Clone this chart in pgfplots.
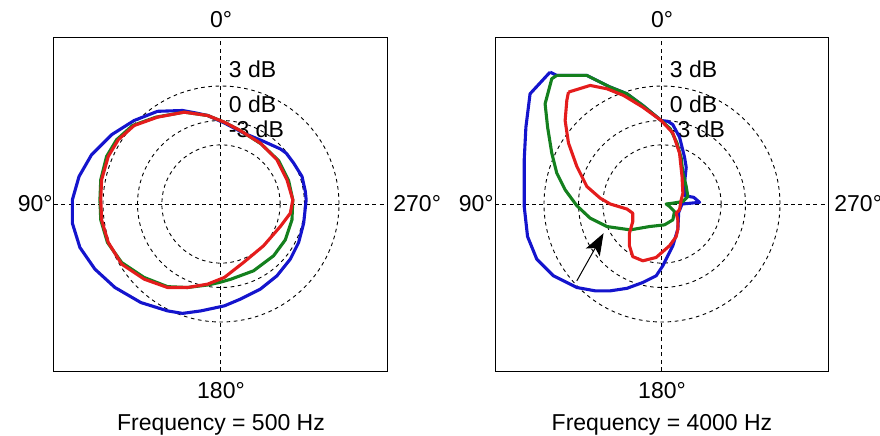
\documentclass[border=0pt]{standalone}
\usepackage{pgfplots}
\pgfplotsset{compat=1.18}
\usepackage{fontspec}
\setmainfont{Liberation Sans}
\usetikzlibrary{arrows.meta}
\definecolor{cblue}{RGB}{20,20,205}
\definecolor{cgreen}{RGB}{20,128,30}
\definecolor{cred}{RGB}{228,28,28}
\pgfplotsset{
  panel/.style={
    scale only axis, width=167pt, height=167pt,
    xmin=-2, xmax=2, ymin=-2, ymax=2,
    xtick=\empty, ytick=\empty, clip=false,
    axis line style={line width=0.5pt},
  },
  curve/.style={line width=1.55pt, line join=round, mark=none},
}
\newcommand{\grid}{%
  \draw[dash pattern=on 2pt off 1.7pt, line width=0.5pt] (axis cs:0,-2) -- (axis cs:0,2);
  \draw[dash pattern=on 2pt off 1.7pt, line width=0.5pt] (axis cs:-2,0) -- (axis cs:2,0);
  \draw[dash pattern=on 1.8pt off 1.8pt, line width=0.45pt] (axis cs:0,0) circle [radius=0.708];
  \draw[dash pattern=on 1.8pt off 1.8pt, line width=0.45pt] (axis cs:0,0) circle [radius=1];
  \draw[dash pattern=on 1.8pt off 1.8pt, line width=0.45pt] (axis cs:0,0) circle [radius=1.413];
}
\newcommand{\labels}[1]{%
  \node[anchor=base, inner sep=0pt] at (rel axis cs:0.5,1) [yshift=5pt] {0°};
  \node[anchor=base, inner sep=0pt] at (rel axis cs:0.5,0) [yshift=-13.5pt] {180°};
  \node[anchor=base, inner sep=0pt] at (rel axis cs:0.5,0) [yshift=-29.5pt] {Frequency = #1 Hz};
  \node[anchor=base east, inner sep=0pt] at (rel axis cs:0,0.5) [yshift=-3.7pt, xshift=-0.5pt] {90°};
  \node[anchor=base west, inner sep=0pt] at (rel axis cs:1,0.5) [yshift=-3.7pt, xshift=2.5pt] {270°};
}
\newcommand{\dblabels}{%
  \node[anchor=base west, inner sep=0pt] at (axis cs:0.09,1.52) {3 dB};
  \node[anchor=base west, inner sep=0pt] at (axis cs:0.09,1.10) {0 dB};
  \node[anchor=base west, inner sep=0pt] at (axis cs:0.09,0.80) {-3 dB};
}
\begin{document}
\begin{tikzpicture}[font=\fontsize{11.5}{13.5}\selectfont]
\path[use as bounding box] (0,0) rectangle (440pt,217.5pt);
% ---------- 500 Hz ----------
\begin{axis}[panel, at={(27pt,32pt)}, anchor=south west]
\grid
\dblabels
\addplot[curve, color=cblue] coordinates {
(-0.46,1.12) (-0.30,1.09) (-0.16,1.06) (0.04,0.97) (0.27,0.85) (0.51,0.75)
(0.71,0.66) (0.78,0.61) (0.87,0.49) (0.97,0.33) (1.01,0.15) (1.02,0.05)
(0.99,-0.23) (0.93,-0.46) (0.83,-0.66) (0.67,-0.86) (0.47,-1.02) (0.23,-1.14)
(0.04,-1.22) (-0.24,-1.28) (-0.46,-1.31) (-0.64,-1.28) (-0.96,-1.18) (-1.27,-1.00)
(-1.51,-0.78) (-1.69,-0.52) (-1.78,-0.23) (-1.78,0.05) (-1.70,0.33) (-1.55,0.59)
(-1.31,0.83) (-1.04,1.00) (-0.76,1.11) (-0.46,1.12)};
\addplot[curve, color=cgreen] coordinates {
(-0.44,1.10) (-0.16,1.06) (0.04,0.98) (0.23,0.88) (0.48,0.72) (0.69,0.52)
(0.81,0.28) (0.86,0.05) (0.85,-0.19) (0.77,-0.43) (0.63,-0.62) (0.39,-0.80)
(0.12,-0.90) (-0.02,-0.94) (-0.16,-0.97) (-0.40,-1.00) (-0.64,-0.99) (-0.92,-0.88)
(-1.19,-0.70) (-1.36,-0.46) (-1.44,-0.19) (-1.45,0.05) (-1.44,0.29) (-1.37,0.57)
(-1.25,0.77) (-1.06,0.94) (-0.78,1.04) (-0.44,1.10)};
\addplot[curve, color=cred] coordinates {
(-0.44,1.10) (-0.16,1.06) (0.04,0.98) (0.23,0.88) (0.47,0.73) (0.67,0.53)
(0.79,0.29) (0.86,0.05) (0.83,-0.11) (0.71,-0.27) (0.51,-0.50) (0.27,-0.70)
(0.04,-0.88) (-0.16,-0.96) (-0.40,-1.00) (-0.64,-1.00) (-0.92,-0.90) (-1.19,-0.72)
(-1.35,-0.46) (-1.43,-0.19) (-1.44,0.05) (-1.43,0.29) (-1.35,0.57) (-1.23,0.77)
(-1.04,0.94) (-0.76,1.04) (-0.44,1.10)};
\labels{500}
\end{axis}
% ---------- 4000 Hz ----------
\begin{axis}[panel, at={(247.5pt,32pt)}, anchor=south west]
\grid
\dblabels
\addplot[curve, color=cblue] coordinates {
(-1.34,1.58) (-1.26,1.54) (-0.90,1.54) (-0.62,1.40) (-0.42,1.32) (-0.23,1.18)
(-0.01,1.00) (0.07,0.99) (0.13,0.95) (0.21,0.80) (0.27,0.56) (0.29,0.44)
(0.27,0.25) (0.27,0.10) (0.38,0.08) (0.45,0.02) (0.24,0.00) (0.20,-0.10)
(0.19,-0.30) (0.13,-0.50) (0.09,-0.58) (0.01,-0.74) (-0.07,-0.86) (-0.23,-0.94)
(-0.42,-1.01) (-0.62,-1.04) (-0.80,-1.04) (-1.02,-1.00) (-1.30,-0.86) (-1.50,-0.66)
(-1.61,-0.39) (-1.65,-0.03) (-1.65,0.53) (-1.63,0.92) (-1.58,1.32) (-1.34,1.58)};
\addplot[curve, color=cgreen] coordinates {
(-1.26,1.54) (-0.90,1.54) (-0.62,1.40) (-0.42,1.32) (-0.23,1.18) (-0.01,1.00)
(0.10,0.90) (0.18,0.73) (0.23,0.55) (0.25,0.37) (0.29,0.21) (0.31,0.09)
(0.25,0.03) (0.13,0.01) (0.05,0.00) (0.09,-0.03) (0.15,-0.09) (0.13,-0.19)
(0.03,-0.25) (-0.15,-0.27) (-0.38,-0.31) (-0.66,-0.27) (-0.86,-0.17) (-1.02,-0.02)
(-1.16,0.17) (-1.26,0.37) (-1.32,0.61) (-1.37,0.92) (-1.40,1.20) (-1.32,1.50)
(-1.26,1.54)};
\addplot[curve, color=cred] coordinates {
(-1.12,1.34) (-0.86,1.42) (-0.66,1.38) (-0.46,1.30) (-0.23,1.16) (-0.01,1.00)
(0.13,0.85) (0.21,0.61) (0.24,0.33) (0.25,0.13) (0.23,0.05) (0.21,-0.07)
(0.17,-0.11) (0.19,-0.19) (0.19,-0.30) (0.17,-0.39) (0.09,-0.50) (-0.07,-0.64)
(-0.23,-0.68) (-0.35,-0.63) (-0.39,-0.50) (-0.39,-0.35) (-0.35,-0.21) (-0.35,-0.11)
(-0.42,-0.06) (-0.62,0.00) (-0.74,0.07) (-0.90,0.21) (-1.02,0.45) (-1.12,0.73)
(-1.16,1.00) (-1.14,1.24) (-1.12,1.34)};
\draw[line width=0.5pt, -{Stealth[length=11pt, width=8pt, inset=2.5pt]}] (axis cs:-1.02,-0.92) -- (axis cs:-0.70,-0.35);
\labels{4000}
\end{axis}
\end{tikzpicture}
\end{document}
